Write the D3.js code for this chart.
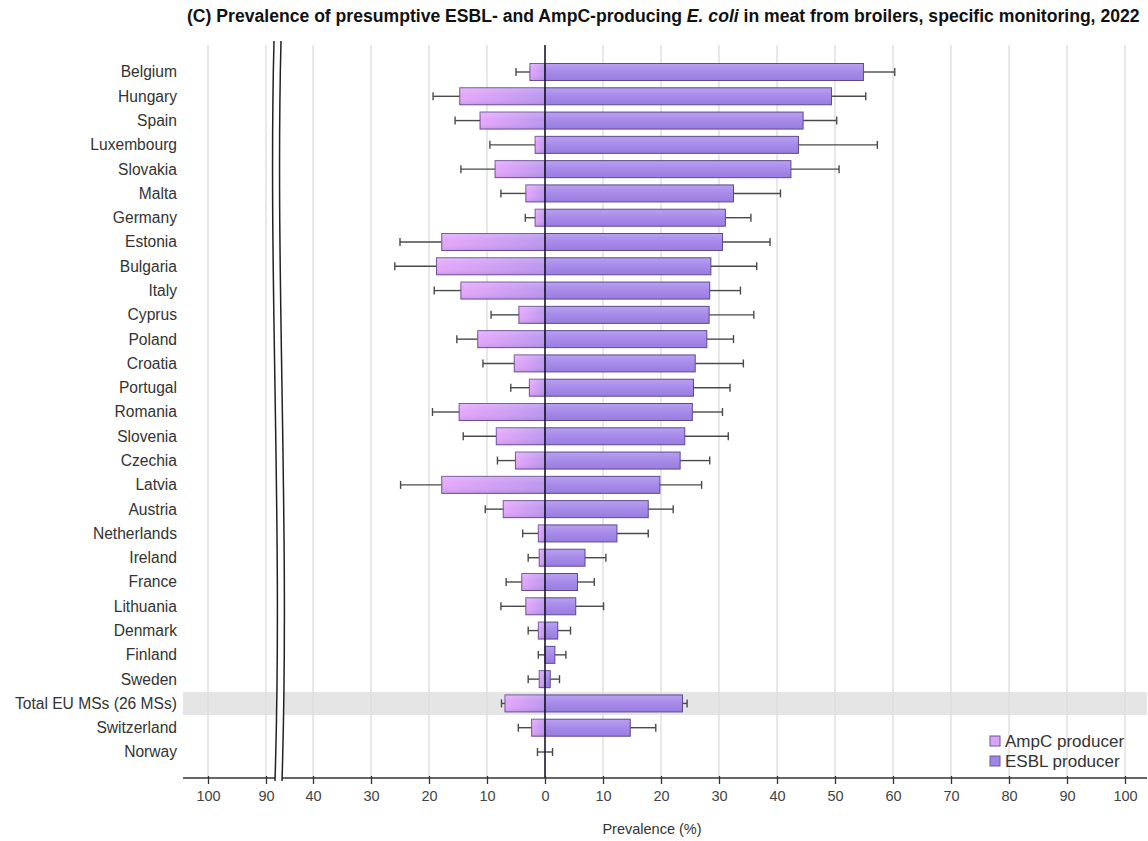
<!DOCTYPE html>
<html>
<head>
<meta charset="utf-8">
<script src="https://cdn.jsdelivr.net/npm/d3@7/dist/d3.min.js"></script>
<style>
  html, body { margin: 0; padding: 0; background: #fff; }
  svg { display: block; font-family: "Liberation Sans", Arial, Helvetica, sans-serif; }
</style>
</head>
<body>
<svg id="chart" width="1148" height="841"></svg>
<script>
// Prevalence (%) of presumptive AmpC- and ESBL-producing E. coli, meat from broilers, 2022
const countries = [
  "Belgium", "Hungary", "Spain", "Luxembourg", "Slovakia", "Malta", "Germany",
  "Estonia", "Bulgaria", "Italy", "Cyprus", "Poland", "Croatia", "Portugal",
  "Romania", "Slovenia", "Czechia", "Latvia", "Austria", "Netherlands", "Ireland",
  "France", "Lithuania", "Denmark", "Finland", "Sweden", "Total EU MSs (26 MSs)",
  "Switzerland", "Norway"
];
const ampcValues = [2.6, 14.7, 11.2, 1.7, 8.6, 3.3, 1.7, 17.8, 18.7, 14.5, 4.5, 11.6, 5.3, 2.7,
  14.8, 8.4, 5.1, 17.8, 7.2, 1.15, 1.0, 4.0, 3.3, 1.15, 0, 1.0, 6.9, 2.3, 0];
const ampcUpper = [5.0, 19.3, 15.5, 9.5, 14.5, 7.6, 3.4, 25.0, 25.9, 19.1, 9.3, 15.2, 10.7, 5.9,
  19.4, 14.1, 8.2, 24.9, 10.3, 3.85, 2.9, 6.7, 7.6, 2.9, 1.15, 2.9, 7.5, 4.6, 1.3];
const esblValues = [54.9, 49.4, 44.5, 43.7, 42.4, 32.5, 31.1, 30.6, 28.6, 28.4, 28.3, 27.9, 25.9, 25.6,
  25.4, 24.1, 23.3, 19.8, 17.8, 12.4, 6.9, 5.6, 5.3, 2.2, 1.7, 0.9, 23.7, 14.7, 0];
const esblUpper = [60.3, 55.3, 50.3, 57.3, 50.7, 40.6, 35.5, 38.8, 36.5, 33.7, 36.0, 32.5, 34.2, 31.9,
  30.6, 31.6, 28.4, 27.0, 22.1, 17.8, 10.5, 8.5, 10.1, 4.4, 3.6, 2.5, 24.5, 19.1, 1.3];
const highlightRow = "Total EU MSs (26 MSs)";

const leftTicks = [100, 90, 40, 30, 20, 10, 0];
const rightTicks = [10, 20, 30, 40, 50, 60, 70, 80, 90, 100];
const seriesNames = ["AmpC producer", "ESBL producer"];

const svg = d3.select("#chart");
const plotLeft = 183, plotRight = 1147, plotTop = 45, axisY = 778;

// Left half (AmpC) is drawn with a broken axis: 40 jumps to 90
const xL = d3.scaleLinear().domain([0, 40, 90, 100]).range([545, 313, 266, 208]);
const xR = d3.scaleLinear().domain([0, 100]).range([545, 1125]);
const y = d3.scaleBand().domain(countries).range([59.86, 764.14]).padding(0);
const barH = y.bandwidth() * 0.7;

// gradients
const defs = svg.append("defs");
const gA = defs.append("linearGradient").attr("id", "gAmpc").attr("x1", 0).attr("x2", 1).attr("y1", 0).attr("y2", 0);
gA.append("stop").attr("offset", "0%").attr("stop-color", "#e6a8fb");
gA.append("stop").attr("offset", "100%").attr("stop-color", "#bb97ef");
const gAv = defs.append("linearGradient").attr("id", "gAmpcV").attr("x1", 0).attr("x2", 0).attr("y1", 0).attr("y2", 1);
gAv.append("stop").attr("offset", "0%").attr("stop-color", "#fff").attr("stop-opacity", 0.18);
gAv.append("stop").attr("offset", "45%").attr("stop-color", "#fff").attr("stop-opacity", 0);
gAv.append("stop").attr("offset", "100%").attr("stop-color", "#3a2470").attr("stop-opacity", 0.12);
const gE = defs.append("linearGradient").attr("id", "gEsbl").attr("x1", 0).attr("x2", 0).attr("y1", 0).attr("y2", 1);
gE.append("stop").attr("offset", "0%").attr("stop-color", "#b8a0f3");
gE.append("stop").attr("offset", "50%").attr("stop-color", "#a78ae9");
gE.append("stop").attr("offset", "100%").attr("stop-color", "#987ddf");

// highlighted EU total row
svg.append("rect")
  .attr("x", plotLeft).attr("width", plotRight - plotLeft)
  .attr("y", y(highlightRow) + y.bandwidth() / 2 - 11.5).attr("height", 23)
  .attr("fill", "#e5e5e5");

// vertical gridlines
const grid = svg.append("g").attr("stroke", "#dedede").attr("stroke-width", 1.4);
leftTicks.filter(d => d !== 0).forEach(d => {
  grid.append("line").attr("x1", xL(d)).attr("x2", xL(d)).attr("y1", plotTop).attr("y2", axisY);
});
rightTicks.forEach(d => {
  grid.append("line").attr("x1", xR(d)).attr("x2", xR(d)).attr("y1", plotTop).attr("y2", axisY);
});

// bars
const rows = countries.map((c, i) => ({
  c, a: ampcValues[i], au: ampcUpper[i], e: esblValues[i], eu: esblUpper[i]
}));
const capH = 8;
const err = svg.append("g").attr("stroke", "#4a4a4a").attr("stroke-width", 1.4);
rows.forEach(r => {
  const cy = y(r.c) + y.bandwidth() / 2;
  err.append("line").attr("x1", xL(r.a)).attr("x2", xL(r.au)).attr("y1", cy).attr("y2", cy);
  err.append("line").attr("x1", xL(r.au)).attr("x2", xL(r.au)).attr("y1", cy - capH / 2).attr("y2", cy + capH / 2);
  err.append("line").attr("x1", xR(r.e)).attr("x2", xR(r.eu)).attr("y1", cy).attr("y2", cy);
  err.append("line").attr("x1", xR(r.eu)).attr("x2", xR(r.eu)).attr("y1", cy - capH / 2).attr("y2", cy + capH / 2);
});

const bars = svg.append("g");
bars.selectAll("rect.ampc").data(rows.filter(r => r.a > 0)).join("rect")
  .attr("class", "ampc")
  .attr("x", d => xL(d.a)).attr("width", d => xL(0) - xL(d.a))
  .attr("y", d => y(d.c) + (y.bandwidth() - barH) / 2).attr("height", barH)
  .attr("fill", "url(#gAmpc)").attr("stroke", "#6a5096").attr("stroke-width", 1);
bars.selectAll("rect.ampcShade").data(rows.filter(r => r.a > 0)).join("rect")
  .attr("class", "ampcShade")
  .attr("x", d => xL(d.a)).attr("width", d => xL(0) - xL(d.a))
  .attr("y", d => y(d.c) + (y.bandwidth() - barH) / 2).attr("height", barH)
  .attr("fill", "url(#gAmpcV)");
bars.selectAll("rect.esbl").data(rows.filter(r => r.e > 0)).join("rect")
  .attr("class", "esbl")
  .attr("x", xR(0)).attr("width", d => xR(d.e) - xR(0))
  .attr("y", d => y(d.c) + (y.bandwidth() - barH) / 2).attr("height", barH)
  .attr("fill", "url(#gEsbl)").attr("stroke", "#5c4a8c").attr("stroke-width", 1);

// zero line
svg.append("line").attr("x1", xR(0)).attr("x2", xR(0)).attr("y1", plotTop).attr("y2", axisY)
  .attr("stroke", "#1d1630").attr("stroke-width", 1.6);

// x axis line
svg.append("line").attr("x1", plotLeft).attr("x2", plotRight).attr("y1", axisY).attr("y2", axisY)
  .attr("stroke", "#333").attr("stroke-width", 1.5);

// axis ticks and labels
const axL = d3.axisBottom(xL).tickValues(leftTicks).tickSize(6).tickFormat(d3.format("d"));
const axR = d3.axisBottom(xR).tickValues(rightTicks).tickSize(6).tickFormat(d3.format("d"));
[axL, axR].forEach(ax => {
  const g = svg.append("g").attr("transform", `translate(0,${axisY})`).call(ax);
  g.select(".domain").remove();
  g.selectAll(".tick line").attr("stroke", "#333").attr("stroke-width", 1.3).attr("y1", -2);
  g.selectAll(".tick text").attr("fill", "#444").attr("font-size", "14.5px")
    .attr("font-family", "'Liberation Sans', Arial, sans-serif").attr("dy", "1.05em").attr("y", 8);
});

// axis break marks between 40 and 90
const bx = xL(90) + 8, gap = 7;
const wave = (x0) => `M${x0},${plotTop - 4} C${x0 - 6},${plotTop + 230} ${x0 + 9},${axisY - 250} ${x0 + 1},${axisY + 3}`;
const band = `M${bx},${plotTop - 4} C${bx - 6},${plotTop + 230} ${bx + 9},${axisY - 250} ${bx + 1},${axisY + 3}
  L${bx + gap + 1},${axisY + 3} C${bx + gap + 9},${axisY - 250} ${bx + gap - 6},${plotTop + 230} ${bx + gap},${plotTop - 4} Z`;
svg.append("path").attr("d", band).attr("fill", "#fff");
[bx, bx + gap].forEach(x0 => {
  svg.append("path").attr("d", wave(x0)).attr("fill", "none").attr("stroke", "#222").attr("stroke-width", 1.5);
});

// category labels
svg.append("g").selectAll("text").data(countries).join("text")
  .attr("x", 177).attr("y", d => y(d) + y.bandwidth() / 2)
  .attr("dy", "0.35em").attr("text-anchor", "end")
  .attr("font-size", "15.6px").attr("fill", "#333")
  .text(d => d);

// x axis title
svg.append("text").attr("x", 652).attr("y", 834).attr("text-anchor", "middle")
  .attr("font-size", "14.5px").attr("fill", "#333").text("Prevalence (%)");

// title
const title = svg.append("text").attr("x", 187).attr("y", 22)
  .attr("font-weight", "bold").attr("fill", "#111").attr("font-size", "14px");
title.append("tspan").text("(C) Prevalence of presumptive ESBL- and AmpC-producing ");
title.append("tspan").attr("font-style", "italic").text("E. coli");
title.append("tspan").text(" in meat from broilers, specific monitoring, 2022");
const tw = title.node().getComputedTextLength();
title.attr("font-size", (14 * 953 / tw).toFixed(2) + "px");

// legend
const leg = svg.append("g").attr("transform", "translate(990,0)");
const legFills = ["#dba3f8", "#9f86e4"];
seriesNames.forEach((s, i) => {
  const ly = 741 + i * 20;
  leg.append("rect").attr("x", 0).attr("y", ly - 5).attr("width", 10).attr("height", 10)
    .attr("fill", legFills[i]).attr("stroke", "#6a5a90").attr("stroke-width", 1);
  leg.append("text").attr("x", 15).attr("y", ly).attr("dy", "0.36em")
    .attr("font-size", "17px").attr("fill", "#333").text(s);
});
</script>
</body>
</html>
